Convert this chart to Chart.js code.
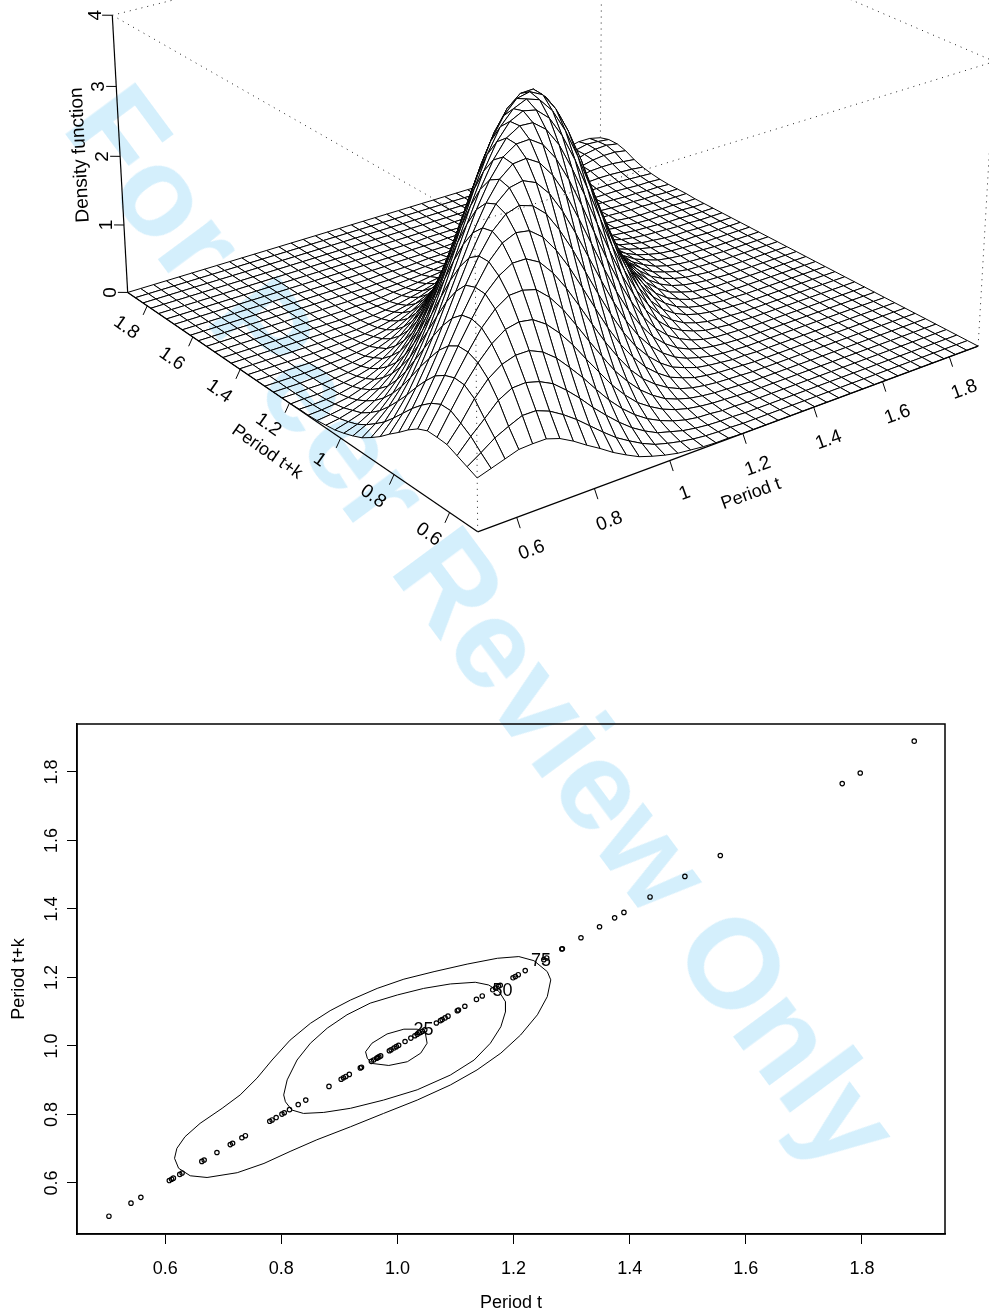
<!DOCTYPE html>
<html>
<head>
<meta charset="utf-8">
<title>Density function</title>
<script src="https://cdn.jsdelivr.net/npm/chart.js@4/dist/chart.umd.min.js"></script>
<style>
  body { margin: 0; background: #fff; width: 989px; height: 1314px; overflow: hidden; position: relative; }
  canvas { position: absolute; left: 0; }
  #surface { top: 0; }
  #contour { top: 700px; }
  #stamp {
    position: absolute; left: 484px; top: 626px; white-space: nowrap;
    font: bold 127px "Liberation Sans", Arial, sans-serif; color: #d4effc;
    transform: translate(-50%, -50%) rotate(53.5deg); mix-blend-mode: multiply; pointer-events: none;
  }
</style>
</head>
<body>
<canvas id="surface" width="989" height="650"></canvas>
<canvas id="contour" width="989" height="614"></canvas>
<div id="stamp">For Peer Review Only</div>
<script>
// range of the estimated density and tick labels
var periodMin = 0.502;
var periodMax = 1.888;
var gridCells = 40;
var periodTicks = [0.6, 0.8, 1.0, 1.2, 1.4, 1.6, 1.8];
var densityTicks = [0, 1, 2, 3, 4];
var surfaceTickLabels = ['0.6', '0.8', '1', '1.2', '1.4', '1.6', '1.8'];

// density, row i of the grid, starting at the diagonal (j = i, i+1, ...)
// the surface is close to symmetric around t = t+k, cells past the end of a row are 0
var densityRows = [
  [.72,.78,.84,.90,.91,.91,.85,.75,.63,.52,.40,.30,.21,.15,.10,.06,.04,.02,.01,.01],
  [.90,1.03,1.12,1.20,1.20,1.13,1.02,.89,.74,.59,.45,.34,.24,.16,.11,.07,.04,.02,.01,.01],
  [1.20,1.38,1.48,1.49,1.44,1.35,1.20,1.03,.84,.67,.51,.37,.26,.17,.12,.07,.04,.02,.01,.01],
  [1.58,1.71,1.77,1.77,1.69,1.55,1.36,1.16,.94,.73,.55,.40,.28,.19,.12,.07,.04,.03,.01,.01],
  [1.90,2.03,2.07,2.04,1.92,1.74,1.52,1.27,1.03,.79,.59,.42,.30,.20,.13,.08,.05,.03,.02,.01],
  [2.22,2.34,2.35,2.30,2.14,1.92,1.65,1.37,1.10,.84,.63,.45,.31,.20,.13,.08,.05,.03,.02,.01],
  [2.52,2.63,2.63,2.53,2.33,2.07,1.77,1.46,1.16,.89,.65,.46,.32,.21,.13,.08,.05,.03,.02,.01],
  [2.82,2.90,2.87,2.73,2.50,2.21,1.88,1.54,1.21,.92,.68,.48,.33,.21,.14,.08,.05,.03,.02,.01],
  [3.07,3.13,3.07,2.91,2.64,2.32,1.96,1.60,1.26,.95,.69,.49,.33,.21,.14,.08,.05,.03,.01,.01],
  [3.29,3.33,3.25,3.05,2.76,2.41,2.03,1.65,1.29,.97,.70,.49,.33,.21,.13,.08,.04,.02,.01],
  [3.48,3.50,3.39,3.17,2.86,2.48,2.08,1.68,1.30,.97,.70,.48,.32,.20,.12,.07,.04,.02,.01],
  [3.62,3.63,3.51,3.27,2.93,2.53,2.10,1.68,1.30,.96,.68,.46,.30,.19,.11,.06,.03,.02,.01],
  [3.74,3.73,3.59,3.33,2.96,2.54,2.09,1.66,1.26,.92,.64,.43,.27,.17,.10,.05,.03,.01,.01],
  [3.82,3.78,3.62,3.33,2.95,2.50,2.04,1.59,1.19,.85,.58,.38,.24,.14,.08,.04,.02,.01],
  [3.86,3.80,3.60,3.28,2.87,2.40,1.92,1.47,1.08,.75,.50,.32,.20,.12,.07,.04,.02,.01],
  [3.84,3.75,3.51,3.15,2.71,2.21,1.74,1.30,.94,.64,.42,.27,.16,.09,.05,.03,.01,.01],
  [3.76,3.60,3.32,2.91,2.45,1.97,1.51,1.11,.78,.53,.34,.21,.13,.07,.04,.02,.01],
  [3.55,3.33,3.01,2.59,2.13,1.68,1.27,.92,.63,.42,.27,.16,.10,.05,.03,.01,.01],
  [3.22,2.97,2.62,2.21,1.79,1.38,1.02,.73,.50,.32,.20,.12,.07,.04,.02,.01],
  [2.80,2.54,2.19,1.82,1.44,1.10,.80,.56,.38,.24,.15,.09,.05,.03,.01,.01],
  [2.35,2.08,1.77,1.45,1.13,.85,.61,.42,.28,.17,.11,.06,.03,.02,.01],
  [1.90,1.66,1.39,1.11,.86,.63,.45,.30,.20,.12,.07,.04,.02,.01,.01],
  [1.49,1.28,1.06,.83,.63,.46,.32,.21,.14,.08,.05,.03,.02,.01],
  [1.13,.95,.78,.60,.45,.32,.22,.14,.09,.05,.03,.02,.01],
  [.83,.69,.55,.42,.31,.21,.15,.10,.06,.03,.02,.01,.01],
  [.59,.48,.38,.28,.21,.14,.10,.06,.04,.02,.01,.01],
  [.41,.32,.25,.19,.14,.09,.06,.04,.03,.02,.01,.01],
  [.27,.22,.17,.12,.08,.06,.04,.03,.02,.01,.01],
  [.18,.14,.10,.08,.06,.05,.03,.02,.02,.01,.01],
  [.11,.09,.07,.06,.05,.03,.02,.02,.01,.01],
  [.08,.07,.06,.05,.04,.03,.03,.02,.01,.01,.01],
  [.06,.06,.05,.04,.03,.03,.02,.02,.01,.01],
  [.05,.05,.05,.04,.03,.03,.02,.02,.01],
  [.05,.05,.05,.05,.04,.03,.03,.02],
  [.07,.07,.07,.07,.06,.05,.04],
  [.10,.11,.11,.10,.09,.07],
  [.15,.16,.16,.14,.12],
  [.20,.22,.22,.19],
  [.25,.26,.23],
  [.25,.23],
  [.19]
];

// observations of the lower panel, they sit on the diagonal so t+k = t
var periodT = [.503,.541,.558,.607,.611,.614,.625,.629,.663,.667,.689,.712,.716,.732,.738,
  .780,.784,.791,.801,.805,.814,.829,.842,.882,.903,.907,.911,.917,.936,.938,.955,.959,.964,.966,.968,.971,
  .986,.989,.994,.998,1.002,1.013,1.023,1.030,1.034,1.038,1.043,1.047,1.067,1.074,1.077,1.082,1.087,
  1.103,1.105,1.116,1.136,1.146,1.164,1.169,1.174,1.177,1.199,1.203,1.208,1.220,1.252,1.257,1.283,1.284,
  1.316,1.348,1.374,1.390,1.435,1.495,1.556,1.766,1.797,1.890];
var periodTK = periodT;

// HDR contours, t and t+k
var contour75T = [.616,.620,.634,.660,.698,.729,.758,.784,.815,.850,.884,.919,.965,1.011,1.063,1.120,1.172,1.209,1.235,1.258,1.264,1.258,1.241,1.212,1.178,1.137,1.091,1.034,.976,.919,.861,.815,.770,.724,.672,.643,.623,.616];
var contour75K = [.672,.701,.735,.774,.818,.857,.906,.959,1.017,1.066,1.103,1.134,1.168,1.195,1.217,1.239,1.256,1.261,1.249,1.217,1.193,1.144,1.091,1.032,.979,.930,.886,.842,.803,.764,.726,.692,.657,.630,.616,.621,.643,.672];
var contour50T = [.804,.810,.827,.850,.879,.913,.953,1.000,1.045,1.091,1.134,1.157,1.175,1.186,1.186,1.178,1.160,1.132,1.091,1.034,.976,.919,.873,.838,.818,.807,.804];
var contour50K = [.857,.901,.959,1.008,1.052,1.091,1.125,1.149,1.168,1.181,1.186,1.178,1.159,1.129,1.100,1.056,1.008,.959,.915,.872,.842,.818,.806,.803,.813,.837,.857];
var contour25T = [.945,.956,.982,1.011,1.034,1.048,1.051,1.040,1.017,.985,.956,.948,.945];
var contour25K = [.983,1.008,1.035,1.049,1.049,1.037,1.008,.979,.954,.943,.949,.964,.983];
var contourLabels = ['75', '50', '25'];
var contourLabelT = [1.247, 1.181, 1.045];
var contourLabelK = [1.248, 1.160, 1.046];

var fontName = '"Liberation Sans", Arial, sans-serif';

// view of the 3d box
var theta = 36.9 * Math.PI / 180;
var phi = 24 * Math.PI / 180;
var eye = 11;
var zHalf = 0.497;

function project(t, k, z) {
  var mid = (periodMin + periodMax) / 2;
  var half = (periodMax - periodMin) / 2;
  var a = (t - mid) / half;
  var b = (k - mid) / half;
  var c = (z - 2) / 2 * zHalf;
  var sx = a * Math.cos(theta) - b * Math.sin(theta);
  var w = -(a * Math.sin(theta) + b * Math.cos(theta));
  var sy = c * Math.cos(phi) - w * Math.sin(phi);
  var sz = w * Math.cos(phi) + c * Math.sin(phi);
  var m = eye / (eye - sz);
  return { x: sx * m, y: sy * m };
}

function density(i, j) {
  var row = densityRows[Math.min(i, j)];
  var v = row[Math.abs(i - j)];
  return v === undefined ? 0 : v;
}

function gridValue(i) {
  return periodMin + (periodMax - periodMin) * i / gridCells;
}

function line(points, color, width, dash) {
  return {
    data: points, showLine: true, fill: false, pointRadius: 0,
    borderColor: color, borderWidth: width, borderDash: dash || [], tension: 0
  };
}

function dotted(a, b) {
  return line([project(a[0], a[1], a[2]), project(b[0], b[1], b[2])], '#222', 1, [1, 5]);
}

function solid(a, b, width) {
  return line([project(a[0], a[1], a[2]), project(b[0], b[1], b[2])], '#000', width || 1);
}

// layers in painting order, back to front
var layers = [];
var lo = periodMin, hi = periodMax;
layers.push(dotted([lo, hi, 4], [hi, hi, 4]));
layers.push(dotted([hi, lo, 4], [hi, hi, 4]));
layers.push(dotted([hi, hi, 0], [hi, hi, 4]));

for (var i = gridCells - 1; i >= 0; i--) {
  for (var j = gridCells - 1; j >= 0; j--) {
    var facet = line([
      project(gridValue(i), gridValue(j), density(i, j)),
      project(gridValue(i + 1), gridValue(j), density(i + 1, j)),
      project(gridValue(i + 1), gridValue(j + 1), density(i + 1, j + 1)),
      project(gridValue(i), gridValue(j + 1), density(i, j + 1)),
      project(gridValue(i), gridValue(j), density(i, j))
    ], '#000', 1);
    facet.fill = 'shape';
    facet.backgroundColor = '#fff';
    layers.push(facet);
  }
}

// axes and ticks
layers.push(solid([lo, lo, 0], [hi, lo, 0], 1.2));
layers.push(solid([lo, lo, 0], [lo, hi, 0], 1.2));
layers.push(solid([lo, hi, 0], [lo, hi, 4], 1.2));
periodTicks.forEach(function (v) {
  layers.push(solid([v, lo, 0], [v, lo - 0.012, -0.115]));
  layers.push(solid([lo, v, 0], [lo - 0.012, v, -0.115]));
});
densityTicks.forEach(function (v) {
  layers.push(solid([lo, hi, v], [lo - 0.018, hi + 0.014, v]));
});

layers.push(dotted([lo, lo, 0], [lo, lo, 4]));
layers.push(dotted([lo, hi, 4], [lo, lo, 4]));
layers.push(dotted([hi, lo, 4], [lo, lo, 4]));
layers.push(dotted([hi, lo, 0], [hi, lo, 4]));

function putText(ctx, text, x, y, degrees, size) {
  ctx.save();
  ctx.translate(x, y);
  ctx.rotate(degrees * Math.PI / 180);
  ctx.font = (size || 18) + 'px ' + fontName;
  ctx.fillStyle = '#000';
  ctx.textAlign = 'center';
  ctx.textBaseline = 'middle';
  ctx.fillText(text, 0, 0);
  ctx.restore();
}

var surfaceText = {
  id: 'surfaceText',
  afterDraw: function (chart) {
    var ctx = chart.ctx, sx = chart.scales.x, sy = chart.scales.y;
    function at(t, k, z, dx, dy, deg, text) {
      var p = project(t, k, z);
      putText(ctx, text, sx.getPixelForValue(p.x) + dx, sy.getPixelForValue(p.y) + dy, deg, 19);
    }
    periodTicks.forEach(function (v, n) {
      at(v, lo, 0, 15, 33, -20, surfaceTickLabels[n]);
      at(lo, v, 0, -21, 22, 35, surfaceTickLabels[n]);
    });
    densityTicks.forEach(function (v) {
      at(lo, hi, v, -17, 0, -90, String(v));
    });
    putText(ctx, 'Period t', 751, 494, -20);
    putText(ctx, 'Period t+k', 267, 452, 35);
    putText(ctx, 'Density function', 80, 155, -93, 19);
  }
};

new Chart(document.getElementById('surface'), {
  type: 'scatter',
  data: { datasets: layers.reverse() },
  options: {
    responsive: false, animation: false, devicePixelRatio: 1,
    layout: { padding: 0 },
    plugins: { legend: { display: false }, tooltip: { enabled: false } },
    scales: {
      x: { display: false, min: -546 / 309.2, max: 443 / 309.2 },
      y: { display: false, min: -469 / 309.2, max: 181 / 309.2 }
    }
  },
  plugins: [surfaceText]
});

function toPoints(xs, ys) {
  return xs.map(function (v, n) { return { x: v, y: ys[n] }; });
}

var contourExtras = {
  id: 'contourExtras',
  afterDraw: function (chart) {
    var ctx = chart.ctx, area = chart.chartArea;
    ctx.save();
    ctx.strokeStyle = '#000';
    ctx.lineWidth = 1.5;
    ctx.strokeRect(area.left, area.top, area.right - area.left, area.bottom - area.top);
    ctx.restore();
    contourLabels.forEach(function (text, n) {
      putText(ctx, text, chart.scales.x.getPixelForValue(contourLabelT[n]), chart.scales.y.getPixelForValue(contourLabelK[n]), 0);
    });
  }
};

function fixedTicks(scale) {
  scale.ticks = periodTicks.map(function (v) { return { value: v }; });
}

function tickText(v) {
  return v.toFixed(1);
}

var axisFont = { family: fontName, size: 18 };

new Chart(document.getElementById('contour'), {
  type: 'scatter',
  data: {
    datasets: [
      { data: toPoints(periodT, periodTK), pointRadius: 2.2, pointBorderWidth: 1.2, pointBorderColor: '#000', pointBackgroundColor: 'transparent', showLine: false },
      line(toPoints(contour75T, contour75K), '#000', 1),
      line(toPoints(contour50T, contour50K), '#000', 1),
      line(toPoints(contour25T, contour25K), '#000', 1)
    ]
  },
  options: {
    responsive: false, animation: false, devicePixelRatio: 1,
    layout: { padding: { top: 24, right: 44, left: 0, bottom: 0 } },
    plugins: { legend: { display: false }, tooltip: { enabled: false } },
    scales: {
      x: {
        min: 0.448, max: 1.943,
        afterBuildTicks: fixedTicks,
        afterFit: function (s) { s.height = 80; },
        grid: { drawOnChartArea: false, tickLength: 10, tickColor: '#000', tickWidth: 1 },
        border: { color: '#000', width: 1.5 },
        ticks: { callback: tickText, color: '#000', font: axisFont, padding: 14, autoSkip: false, maxRotation: 0 },
        title: { display: true, text: 'Period t', color: '#000', font: axisFont, padding: { top: 4, bottom: 0 } }
      },
      y: {
        min: 0.451, max: 1.94,
        afterBuildTicks: fixedTicks,
        afterFit: function (s) { s.width = 77; },
        grid: { drawOnChartArea: false, tickLength: 10, tickColor: '#000', tickWidth: 1 },
        border: { color: '#000', width: 1.5 },
        ticks: { callback: tickText, color: '#000', font: axisFont, padding: 2.5, autoSkip: false, minRotation: 90, maxRotation: 90, crossAlign: 'center' },
        title: { display: true, text: 'Period t+k', color: '#000', font: axisFont, padding: { top: 8, bottom: 0 } }
      }
    }
  },
  plugins: [contourExtras]
});
</script>
</body>
</html>
